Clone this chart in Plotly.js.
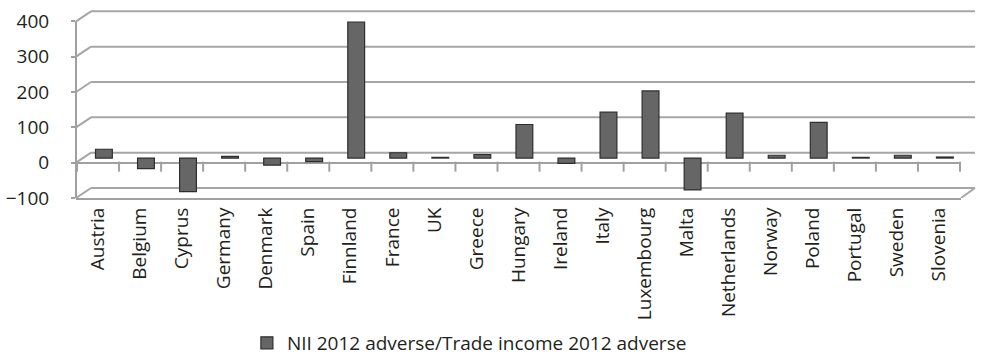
<!DOCTYPE html>
<html>
<head>
<meta charset="utf-8">
<script src="https://cdn.plot.ly/plotly-3.0.1.min.js"></script>
<style>html,body{margin:0;padding:0;background:#fff;}#chart{width:982px;height:355px;}</style>
</head>
<body>
<div id="chart"></div>
<script>
const countries = ["Austria","Belgium","Cyprus","Germany","Denmark","Spain","Finnland","France","UK","Greece","Hungary","Ireland","Italy","Luxembourg","Malta","Netherlands","Norway","Poland","Portugal","Sweden","Slovenia"];
const values = [25,-30,-95,5,-20,-10,385,15,2,10,95,-15,130,190,-90,127,8,101,2,8,3];
const seriesName = "NII 2012 adverse/Trade income 2012 adverse";
const yTicks = [-100,0,100,200,300,400];
const yRange = [-100, 432];
// bars sit mid-depth in the 3D box: same scale, view shifted by ~13 units
const depthShift = 13;

const trace = {
  type: "bar",
  x: countries,
  y: values,
  yaxis: "y2",
  name: seriesName,
  showlegend: true,
  width: 0.4,
  offset: -0.06,
  marker: {color: "#666666", line: {color: "#2e2e2e", width: 1.2}},
  hoverinfo: "x+y"
};

// 3D-style back wall: gridlines pushed back (up/right) with diagonal connectors
const gridColor = "#a6a6a6";
const shapes = [];
yTicks.forEach(function (v) {
  shapes.push({type: "line", layer: "below", xref: "paper", xsizemode: "pixel", xanchor: 0, x0: 0, x1: 15,
    yref: "y", ysizemode: "pixel", yanchor: v, y0: 0, y1: 10, line: {color: gridColor, width: 2}});
  shapes.push({type: "line", layer: "below", xref: "paper", xsizemode: "pixel", xanchor: 0, x0: 15, x1: 899,
    yref: "y", ysizemode: "pixel", yanchor: v, y0: 10, y1: 10, line: {color: gridColor, width: 2}});
});
shapes.push({type: "line", layer: "below", xref: "paper", xsizemode: "pixel", xanchor: 1, x0: 0, x1: 14,
  yref: "y", ysizemode: "pixel", yanchor: yTicks[0], y0: 0, y1: 10, line: {color: gridColor, width: 2}});
// front vertical axis line from lowest to highest tick
const yTop = (yTicks[yTicks.length - 1] - yRange[0]) / (yRange[1] - yRange[0]);
shapes.push({type: "line", layer: "above", xref: "paper", x0: 0, x1: 0, yref: "paper", y0: 0, y1: yTop,
  line: {color: "#a0a0a0", width: 2}});
// category-boundary tick marks on the front zero line
for (let i = 0; i <= countries.length; i++) {
  shapes.push({type: "line", layer: "below", xref: "x", x0: i - 0.5, x1: i - 0.5,
    yref: "y", ysizemode: "pixel", yanchor: 0, y0: 1, y1: -9, line: {color: "#a0a0a0", width: 2}});
}

const layout = {
  width: 982, height: 355,
  margin: {l: 76, r: 21, t: 10, b: 157},
  paper_bgcolor: "#fff", plot_bgcolor: "rgba(0,0,0,0)",
  font: {family: "'Open Sans', 'Noto Sans', sans-serif", color: "#231f20", size: 18},
  showlegend: true,
  shapes: shapes,
  xaxis: {
    type: "category",
    automargin: false,
    tickangle: -90,
    tickfont: {size: 19},
    showgrid: false,
    showline: true, linecolor: "#a0a0a0", linewidth: 2,
    ticks: "", ticklen: 0
  },
  yaxis: {
    automargin: false,
    range: yRange,
    tickvals: yTicks,
    tickfont: {size: 19},
    showgrid: false,
    zeroline: true, zerolinecolor: "#a0a0a0", zerolinewidth: 2,
    showline: false,
    ticks: "outside", ticklen: 4, tickcolor: "#a0a0a0", tickwidth: 2,
    ticklabelstandoff: 18
  },
  yaxis2: {
    overlaying: "y",
    automargin: false,
    range: [yRange[0] - depthShift, yRange[1] - depthShift],
    visible: false,
    showgrid: false, zeroline: false, showticklabels: false
  },
  legend: {
    orientation: "h", xref: "container", yref: "container",
    x: 0.478, xanchor: "center", y: 0.034, yanchor: "middle",
    font: {size: 19}, itemwidth: 30
  }
};

Plotly.newPlot("chart", [trace], layout, {displayModeBar: false, staticPlot: true});
</script>
</body>
</html>
